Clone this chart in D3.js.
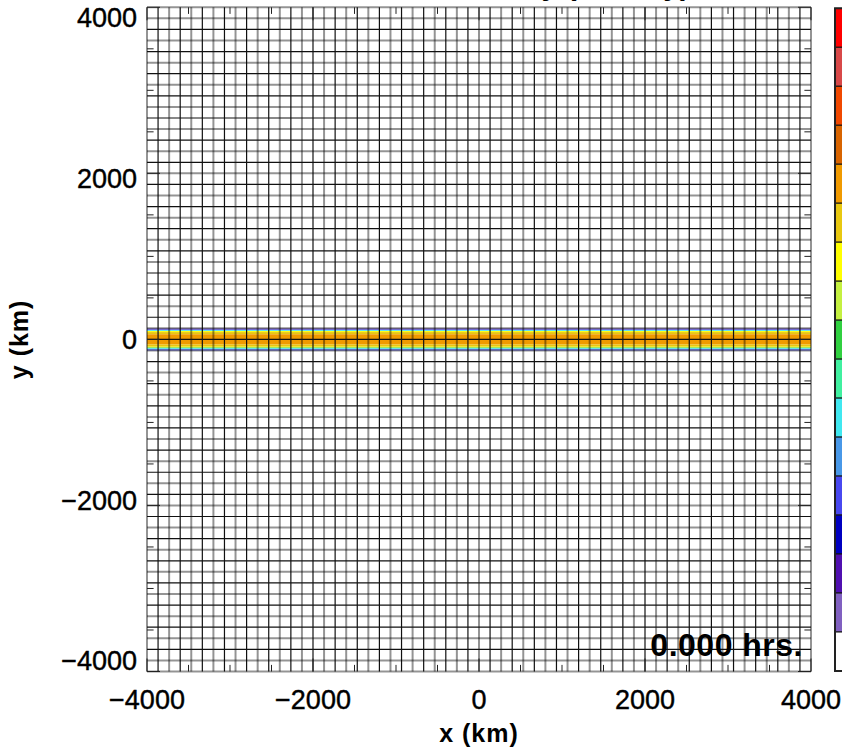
<!DOCTYPE html>
<html>
<head>
<meta charset="utf-8">
<script src="https://cdn.jsdelivr.net/npm/d3@7"></script>
<style>
  body { margin: 0; background: #fff; }
  svg { display: block; }
  text { font-family: "Liberation Sans", Arial, sans-serif; }
</style>
</head>
<body>
<svg id="chart" width="842" height="747"></svg>
<script>

// colour levels of the bar, highest (top) to lowest (bottom)

var levelColors = ["#ff0000", "#d84848", "#f04800", "#d86400", "#f09a00", "#e8c810",
  "#ffff00", "#c4f040", "#30d040", "#40f0a0", "#40e8f0", "#4898e8",
  "#4848f0", "#0000c0", "#5010b0", "#8060c0", "#ffffff"];

// the jet along y = 0 : strip edges (km) and the colour level of each strip

var stripTop    = [133, 120, 110, 100, 88, 62, -62, -88, -98, -106, -114, -122];
var stripBottom = [120, 110, 100, 88, 62, -62, -88, -98, -106, -114, -122, -133];
var stripLevel  = [15, 12, 10, 6, 5, 4, 5, 6, 8, 10, 11, 12];

// axes

var majorTicks = [-4000, -2000, 0, 2000, 4000];
var minorTicks = d3.range(-4000, 4001, 500);
var timeLabel = "0.000 hrs.";
var titleText = "Zonal Velocity (km/day)";

// plot frame (plotTop, not top: window.top is taken)

var plotLeft = 147, plotRight = 811, plotTop = 7.3, plotBottom = 671.5;
var svg = d3.select("#chart");

var x = d3.scaleLinear().domain([-4000, 4000]).range([plotLeft, plotRight]);
var y = d3.scaleLinear().domain([-4000, 4000]).range([plotBottom, plotTop]);

// y labels sit on a slightly squeezed scale in the original
var yLab = d3.scaleLinear().domain([-4000, 4000]).range([661, 18]);

// title, almost all of it above the window

svg.append("text")
  .attr("x", 690)
  .attr("y", -5)
  .attr("text-anchor", "end")
  .style("font-size", "30px")
  .style("font-weight", "bold")
  .text(titleText);

// jet strips

svg.append("g").selectAll("rect")
  .data(stripLevel)
  .enter()
  .append("rect")
  .attr("x", x(-4000))
  .attr("width", x(4000) - x(-4000))
  .attr("y", function (d, i) { return y(stripTop[i]); })
  .attr("height", function (d, i) { return y(stripBottom[i]) - y(stripTop[i]); })
  .attr("fill", function (d) { return levelColors[d]; });

// model mesh: 60 cells each way, lines alternating grey / black

var cells = d3.range(0, 61);
var dx = 8000 / 60;
var mesh = svg.append("g");

function isGreyV(k) { return k % 2 == 0; }
function isGreyH(k) { return k % 2 == 1 || k == 0 || k == 60; }

mesh.selectAll("line.v")
  .data(cells)
  .enter()
  .append("line")
  .attr("class", "v")
  .attr("x1", function (k) { return x(-4000 + k * dx); })
  .attr("x2", function (k) { return x(-4000 + k * dx); })
  .attr("y1", plotTop)
  .attr("y2", plotBottom)
  .attr("stroke", function (k) { return isGreyV(k) ? "#000" : "#111"; })
  .attr("stroke-opacity", function (k) { return isGreyV(k) ? 0.42 : 1; })
  .attr("stroke-width", function (k) { return isGreyV(k) ? 2 : 1.2; });

mesh.selectAll("line.h")
  .data(cells)
  .enter()
  .append("line")
  .attr("class", "h")
  .attr("x1", plotLeft)
  .attr("x2", plotRight)
  .attr("y1", function (k) { return y(4000 - k * dx); })
  .attr("y2", function (k) { return y(4000 - k * dx); })
  .attr("stroke", function (k) { return isGreyH(k) ? "#000" : "#111"; })
  .attr("stroke-opacity", function (k) { return isGreyH(k) ? 0.42 : 1; })
  .attr("stroke-width", function (k) { return isGreyH(k) ? 2 : 1.2; });

// ticks on all four sides, pointing in

function tickLen(v) { return majorTicks.indexOf(v) >= 0 ? 13 : 6.6; }

var ticks = svg.append("g").attr("stroke", "#222").attr("stroke-width", 1);

ticks.selectAll("line.b").data(minorTicks).enter().append("line")
  .attr("x1", x).attr("x2", x)
  .attr("y1", plotBottom).attr("y2", function (v) { return plotBottom - tickLen(v); });
ticks.selectAll("line.t").data(minorTicks).enter().append("line")
  .attr("x1", x).attr("x2", x)
  .attr("y1", plotTop).attr("y2", function (v) { return plotTop + tickLen(v); });
ticks.selectAll("line.l").data(minorTicks).enter().append("line")
  .attr("y1", y).attr("y2", y)
  .attr("x1", plotLeft).attr("x2", function (v) { return plotLeft + tickLen(v); });
ticks.selectAll("line.r").data(minorTicks).enter().append("line")
  .attr("y1", y).attr("y2", y)
  .attr("x1", plotRight).attr("x2", function (v) { return plotRight - tickLen(v); });

// tick labels, a touch heavier than regular

function fmt(v) { return v < 0 ? "\u2212" + Math.abs(v) : String(v); }

svg.append("g").selectAll("text")
  .data(majorTicks)
  .enter()
  .append("text")
  .attr("x", x)
  .attr("y", 709)
  .attr("text-anchor", "middle")
  .style("font-size", "27px")
  .style("stroke", "#000")
  .style("stroke-width", 0.4)
  .text(fmt);

svg.append("g").selectAll("text")
  .data(majorTicks)
  .enter()
  .append("text")
  .attr("x", 137)
  .attr("y", yLab)
  .attr("dy", "0.35em")
  .attr("text-anchor", "end")
  .style("font-size", "27px")
  .style("stroke", "#000")
  .style("stroke-width", 0.4)
  .text(fmt);

// axis titles

svg.append("text")
  .attr("x", x(0))
  .attr("y", 742)
  .attr("text-anchor", "middle")
  .style("font-size", "25px")
  .style("font-weight", "bold")
  .style("letter-spacing", "1px")
  .text("x (km)");

svg.append("text")
  .attr("transform", "translate(28," + y(0) + ") rotate(-90)")
  .attr("text-anchor", "middle")
  .style("font-size", "25px")
  .style("font-weight", "bold")
  .style("letter-spacing", "1px")
  .text("y (km)");

// time stamp

svg.append("text")
  .attr("x", 803)
  .attr("y", 656)
  .attr("text-anchor", "end")
  .style("font-size", "32px")
  .style("font-weight", "bold")
  .style("letter-spacing", "0.5px")
  .text(timeLabel);

// colour bar, cut by the window edge

var bar = d3.scaleBand()
  .domain(d3.range(levelColors.length))
  .range([8.3, 671]);

var cb = svg.append("g");

cb.selectAll("rect")
  .data(levelColors)
  .enter()
  .append("rect")
  .attr("x", 835)
  .attr("width", 30)
  .attr("y", function (d, i) { return bar(i); })
  .attr("height", bar.bandwidth())
  .attr("fill", function (d) { return d; })
  .attr("stroke", "#111")
  .attr("stroke-width", 1);

cb.append("rect")
  .attr("x", 835)
  .attr("y", 8.3)
  .attr("width", 30)
  .attr("height", 671 - 8.3)
  .attr("fill", "none")
  .attr("stroke", "#222")
  .attr("stroke-width", 2);

</script>
</body>
</html>
